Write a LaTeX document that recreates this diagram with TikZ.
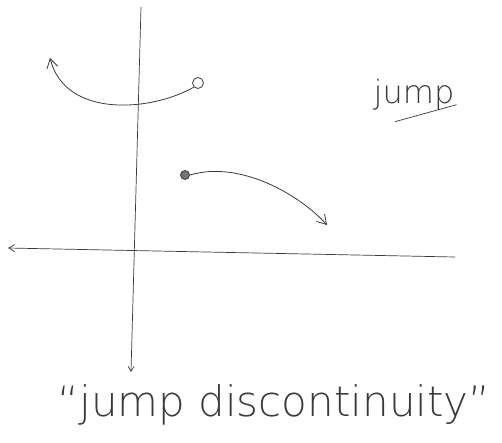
\documentclass[tikz,border=0pt]{standalone}
\usepackage{fontspec}
\usepackage{tikz}
\usetikzlibrary{arrows.meta, positioning, calc}
\newfontfamily\handfont{DejaVu Sans ExtraLight}
\definecolor{pencil}{HTML}{3A3A3A}
\definecolor{paper}{HTML}{FFFFFF}
\tikzset{
    axisline/.style={
        line width=0.7pt, color=pencil
    },
    sketchcurve/.style={
        -{Straight Barb[length=9pt, width=11pt]}, line width=0.8pt, color=pencil
    },
    opendot/.style={
        circle, draw=pencil, fill=paper, line width=0.8pt,
        minimum size=11pt, inner sep=0pt
    },
    filldot/.style={
        circle, draw=pencil, fill=pencil!70, line width=0.8pt,
        minimum size=9pt, inner sep=0pt
    },
    handtext/.style={
        font=\handfont\fontsize{#1}{#1}\selectfont, text=pencil, inner sep=0pt
    },
    handtext/.default=30,
}

\begin{document}
\begin{tikzpicture}[x=1pt, y=-1pt]
    \useasboundingbox (0,0) rectangle (502,442);

    % Axes
    \coordinate (ytop) at (141,7);
    \coordinate (ybot) at (131,372);
    \coordinate (xright) at (455,257);
    \coordinate (xleft) at (8,248);
    \draw[axisline, -{Straight Barb[length=5pt, width=6pt]}] (ytop) -- (ybot);
    \draw[axisline, -{Straight Barb[length=6pt, width=7pt]}] (xright) -- (xleft);

    % Left branch with hole
    \node[opendot] (hole) at (198,83) {};
    \coordinate (lefttip) at (50,58);
    \draw[sketchcurve] (hole.south west) .. controls (150,112) and (65,118) .. (lefttip);

    % Right branch with solid point
    \node[filldot] (point) at (185,175) {};
    \coordinate (righttip) at (327,225);
    \draw[sketchcurve] (point.east) .. controls (240,160) and (300,195) .. (righttip);

    % Labels
    \node[handtext=32] (jumplabel) at (414,95) {jump};
    \draw[axisline] ($(jumplabel.south)+(-19,11)$) -- ($(jumplabel.south east)+(2,-6)$);
    \node[handtext=42] (caption) at (274,405) {“jump discontinuity”};

\end{tikzpicture}
\end{document}
